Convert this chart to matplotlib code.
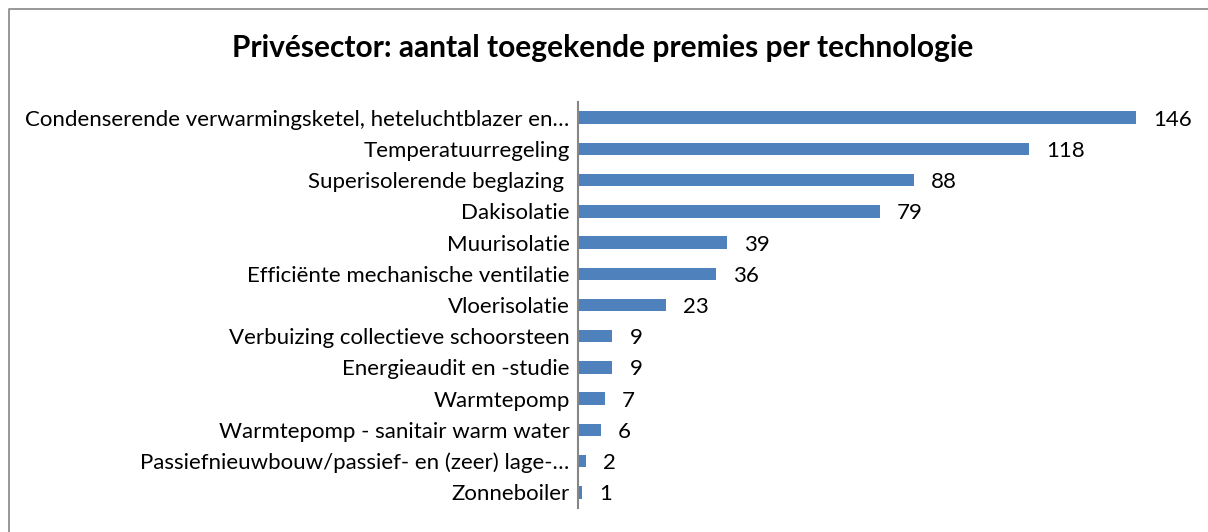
import matplotlib
matplotlib.use("Agg")
import matplotlib.pyplot as plt
from matplotlib.lines import Line2D

plt.rcParams['font.family'] = ['Lato', 'DejaVu Sans']

categories = [
    "Condenserende verwarmingsketel, heteluchtblazer en…",
    "Temperatuurregeling",
    "Superisolerende beglazing ",
    "Dakisolatie",
    "Muurisolatie",
    "Efficiënte mechanische ventilatie",
    "Vloerisolatie",
    "Verbuizing collectieve schoorsteen",
    "Energieaudit en -studie",
    "Warmtepomp",
    "Warmtepomp - sanitair warm water",
    "Passiefnieuwbouw/passief- en (zeer) lage-…",
    "Zonneboiler",
]
counts = [146, 118, 88, 79, 39, 36, 23, 9, 9, 7, 6, 2, 1]

BAR_COLOR = '#4F81BD'
AXIS_COLOR = '#868686'

fig = plt.figure(figsize=(12.08, 5.32), dpi=100)
ax = fig.add_axes([578 / 1208, 24 / 532, 611.5 / 1208, 406 / 532])

ypos = list(range(len(categories)))
ax.barh(ypos, counts, height=0.4, color=BAR_COLOR)
ax.set_ylim(len(categories) - 0.5, -0.5)
ax.set_xlim(0, 160)

ax.set_yticks(ypos)
ax.set_yticklabels(categories, fontsize=16)
ax.tick_params(axis='y', length=0, pad=6)
ax.set_xticks([])

for y, v in zip(ypos, counts):
    ax.annotate(str(v), (v, y), xytext=(17, -2), textcoords='offset pixels',
                va='center', ha='left', fontsize=16)

for side in ['top', 'right', 'bottom']:
    ax.spines[side].set_visible(False)
ax.spines['left'].set_color(AXIS_COLOR)
ax.spines['left'].set_linewidth(1.5)

# chart border (top and left edges visible in the crop)
fig.add_artist(Line2D([9 / 1208, 9 / 1208, 1.0], [0.0, 1 - 9 / 532, 1 - 9 / 532],
                      transform=fig.transFigure, color=AXIS_COLOR, lw=1.2))

fig.text(603 / 1208, 1 - 48 / 532, "Privésector: aantal toegekende premies per technologie",
         ha='center', va='center', fontsize=21.5, fontweight='bold')

fig.savefig('out.png', dpi=100)
